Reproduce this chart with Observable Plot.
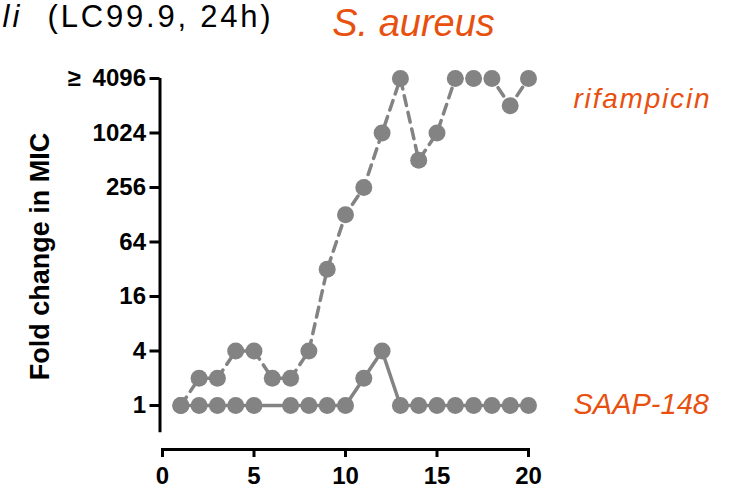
<!DOCTYPE html>
<html>
<head>
<meta charset="utf-8">
<script src="https://cdn.jsdelivr.net/npm/d3@7"></script>
<script src="https://cdn.jsdelivr.net/npm/@observablehq/plot@0.6"></script>
<style>
  html, body { margin: 0; padding: 0; background: #fff; }
  #chart svg { display: block; }
</style>
</head>
<body>
<div id="chart"></div>
<script>
// Data
const rifDays = [1, 2, 3, 4, 5, 6, 7, 8, 9, 10, 11, 12, 13, 14, 15, 16, 17, 18, 19, 20];
const rifValues = [1, 2, 2, 4, 4, 2, 2, 4, 32, 128, 256, 1024, 4096, 512, 1024, 4096, 4096, 4096, 2048, 4096];
const saapDays = [1, 2, 3, 4, 5, 7, 8, 9, 10, 11, 12, 13, 14, 15, 16, 17, 18, 19, 20];
const saapValues = [1, 1, 1, 1, 1, 1, 1, 1, 1, 2, 4, 1, 1, 1, 1, 1, 1, 1, 1];
const xTicks = [0, 5, 10, 15, 20];
const yTicks = [1, 4, 16, 64, 256, 1024, 4096];
const yTickLabels = ["1", "4", "16", "64", "256", "1024", "\u2265\u20024096"];
const seriesNames = ["rifampicin", "SAAP-148"];
const title = "S. aureus";
const yLabel = "Fold change in MIC";
const leftPanelSpecies = "li";
const leftPanelNote = "(LC99.9, 24h)";
const yAxisBottom = 0.5;

const rif = rifDays.map((d, i) => ({day: d, value: rifValues[i]}));
const saap = saapDays.map((d, i) => ({day: d, value: saapValues[i]}));

const gray = "#838383";
const orange = "#e8500f";

const chart = Plot.plot({
  width: 735,
  height: 493,
  marginLeft: 162,
  marginRight: 207,
  marginTop: 78,
  marginBottom: 44,
  style: {fontFamily: "'Liberation Sans', Arial, sans-serif", fontWeight: "bold", color: "#000", background: "#fff", overflow: "visible"},
  x: {domain: [0, 20]},
  y: {type: "log", base: 2, domain: [1, 4096], range: [405, 78]},
  marks: [
    Plot.ruleX([0], {y1: yAxisBottom, y2: 4096, stroke: "#000", strokeWidth: 3, dx: -2.5}),
    Plot.frame({anchor: "bottom", stroke: "#000", strokeWidth: 3}),
    Plot.axisY({ticks: yTicks, tickFormat: d => yTickLabels[yTicks.indexOf(d)], tickSize: 10, tickPadding: 4, fontSize: 24, strokeWidth: 3, dx: -2.5, label: null}),
    Plot.axisX({ticks: xTicks, tickSize: 8, tickPadding: 9, fontSize: 24, strokeWidth: 3, label: null}),
    Plot.line(rif, {x: "day", y: "value", stroke: gray, strokeWidth: 3.5, strokeDasharray: "10,7"}),
    Plot.line(saap, {x: "day", y: "value", stroke: gray, strokeWidth: 3.5}),
    Plot.dot(rif, {x: "day", y: "value", r: 8.5, fill: gray, stroke: "none"}),
    Plot.dot(saap, {x: "day", y: "value", r: 8.5, fill: gray, stroke: "none"}),
    Plot.text([yLabel], {frameAnchor: "left", rotate: -90, dx: -122, dy: -7.5, fontSize: 27, fontWeight: "bold", fill: "#000", textAnchor: "middle", lineAnchor: "middle"}),
    Plot.text([title], {frameAnchor: "top-left", dx: 251, dy: -55, fontSize: 38, fontStyle: "italic", fontWeight: "normal", fill: orange, textAnchor: "middle", lineAnchor: "middle"}),
    Plot.text([seriesNames[0]], {frameAnchor: "top-right", dx: 45, dy: 21, fontSize: 28, fontStyle: "italic", fontWeight: "normal", fill: orange, textAnchor: "start", lineAnchor: "middle"}),
    Plot.text([seriesNames[1]], {frameAnchor: "bottom-right", dx: 45, dy: -45, fontSize: 29, fontStyle: "italic", fontWeight: "normal", fill: orange, textAnchor: "start", lineAnchor: "middle"}),
    Plot.text([leftPanelNote], {frameAnchor: "top-left", dx: 111, dy: -61, fontSize: 31, fontWeight: "normal", fill: "#000", textAnchor: "end", lineAnchor: "middle"}),
    Plot.text([leftPanelSpecies], {frameAnchor: "top-left", dx: -160, dy: -61, fontSize: 31, fontStyle: "italic", fontWeight: "normal", fill: "#000", textAnchor: "start", lineAnchor: "middle"})
  ]
});

// letter spacing tweaks for the wide label fonts of the original figure
const spacing = {"rifampicin": "1.8px", "(LC99.9, 24h)": "2.8px", "li": "3px"};
d3.select(chart).selectAll("text").each(function() {
  const t = this.textContent;
  if (spacing[t]) this.setAttribute("letter-spacing", spacing[t]);
});

document.getElementById("chart").appendChild(chart);
</script>
</body>
</html>
